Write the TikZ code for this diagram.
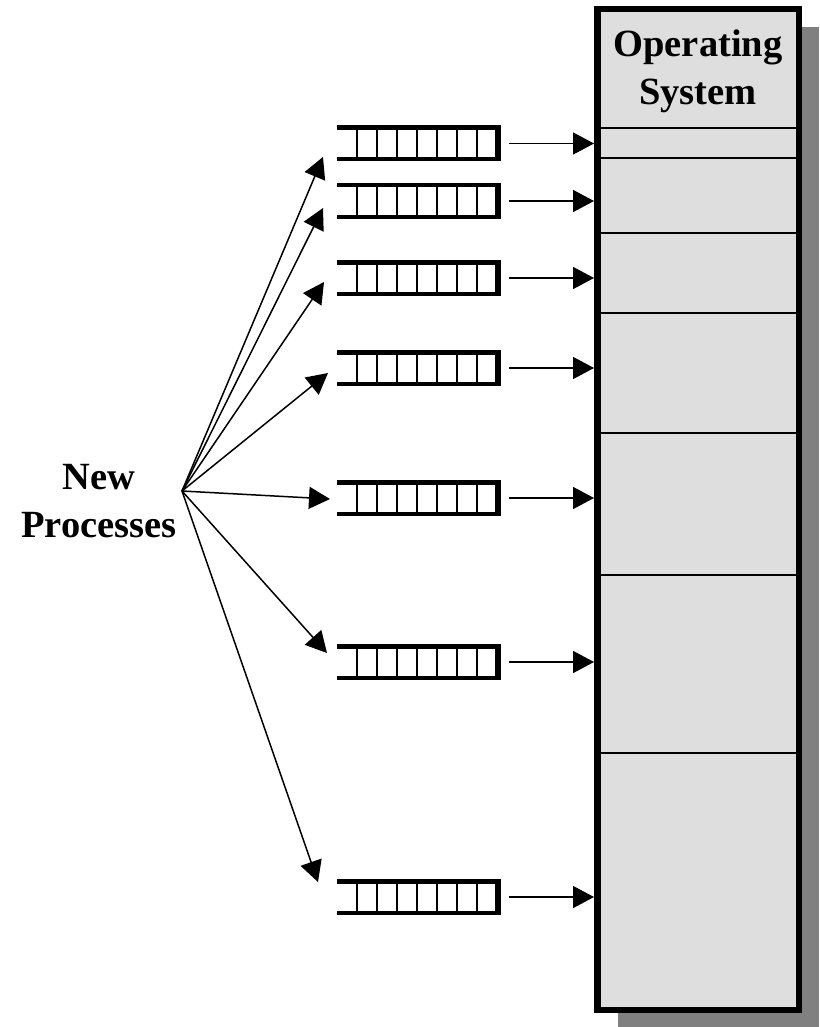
\documentclass[tikz,border=0pt]{standalone}
\usepackage{fontspec}
\setmainfont{Liberation Serif}
\usetikzlibrary{arrows.meta}
\definecolor{memfill}{HTML}{DEDEDE}
\definecolor{shadowgray}{HTML}{808080}
\begin{document}
\begin{tikzpicture}[x=1pt,y=-1pt,
  conn/.style={line width=1.5pt,-{Triangle[length=21pt,width=22pt]}},
  qslot/.style={minimum width=164pt,minimum height=36pt,inner sep=0pt,outer sep=0pt},
  membox/.style={draw=black,line width=6.5pt,fill=memfill,minimum width=201.5pt,minimum height=1000.5pt,inner sep=0pt},
  divider/.style={line width=1.6pt},
  cell/.style={line width=1.5pt},
  bar/.style={fill=black},
  lbl/.style={font=\fontsize{38.5}{48}\selectfont\bfseries,align=center,inner sep=0pt}
]
\useasboundingbox (0,0) rectangle (819,1027);
% shadow of the memory box
\fill[shadowgray] (618,27) rectangle (819,1027);
% memory box
\node[membox] (mem) at (698,509.5) {};
\foreach \y in {128,158,233,313,433,575,753}
  \draw[divider] (mem.west |- 0,\y) -- (mem.east |- 0,\y);
\node[lbl,anchor=base] (os) at (698,105) {Operating\\System};
% label
\node[lbl,anchor=base] (np) at (99,537) {New\\Processes};
\coordinate (src) at (182,491);
% queues
\foreach \i/\y in {1/143.5,2/201,3/278,4/368,5/498,6/662,7/897}{
  \node[qslot] (q\i) at (419,\y) {};
  \fill[bar] (q\i.north west) rectangle ([yshift=-4.5pt]q\i.north east);
  \fill[bar] ([yshift=4.5pt]q\i.south west) rectangle (q\i.south east);
  \fill[bar] ([xshift=-6pt]q\i.north east) rectangle (q\i.south east);
  \foreach \xs in {20,40,...,140}
    \draw[cell] ([xshift=\xs pt]q\i.north west) -- ([xshift=\xs pt]q\i.south west);
  \draw[conn] ([xshift=8pt]q\i.east) -- (q\i.east -| mem.west);
}
% arrow ends of the fan
\coordinate (t1) at (323,157);
\coordinate (t2) at (323,208);
\coordinate (t3) at (324,282);
\coordinate (t4) at (328,373);
\coordinate (t5) at (330,499);
\coordinate (t6) at (327,653);
\coordinate (t7) at (318,882);
\foreach \i in {1,...,7}
  \draw[conn] (src) -- (t\i);
\end{tikzpicture}
\end{document}
